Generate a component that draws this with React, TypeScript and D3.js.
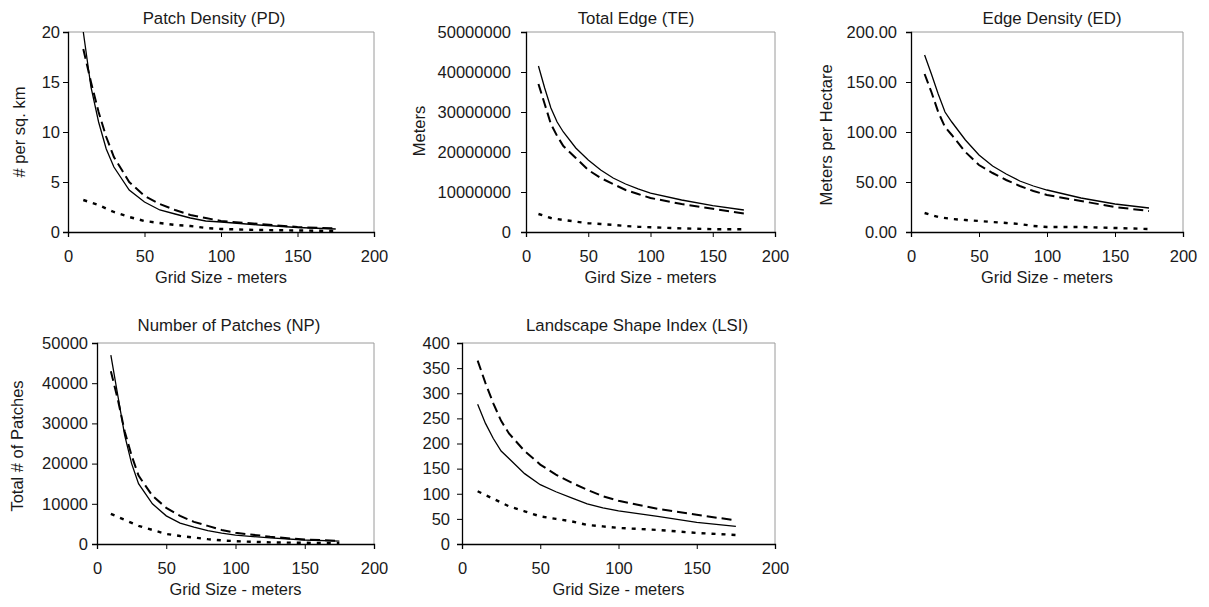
import React, { useRef, useEffect } from 'react';
import * as d3 from 'd3';

// grid sizes (meters) at which the metrics were computed
const gridSizes = [10, 15, 20, 25, 30, 40, 50, 60, 70, 80, 90, 100, 125, 150, 175];
const dotSizes = [10, 20, 30, 40, 50, 60, 70, 80, 90, 100, 125, 150, 175];

// Patch Density (PD)
const pdSolid = [20, 14.5, 11, 8.3, 6.5, 4.2, 3, 2.2, 1.8, 1.4, 1.1, 1.0, 0.7, 0.45, 0.3];
const pdDashed = [18.3, 15, 12, 9.5, 7.5, 5, 3.6, 2.8, 2.2, 1.7, 1.4, 1.1, 0.8, 0.5, 0.35];
const pdDotted = [3.2, 2.7, 2.0, 1.5, 1.1, 0.9, 0.7, 0.6, 0.4, 0.3, 0.2, 0.15, 0.1];

// Total Edge (TE)
const teSolid = [41500000, 36000000, 31000000, 27500000, 25000000, 21000000, 18000000, 15500000, 13500000, 12000000, 10800000, 9700000, 8000000, 6600000, 5500000];
const teDashed = [37000000, 32000000, 27000000, 24000000, 21500000, 18500000, 15500000, 13500000, 12000000, 10500000, 9500000, 8500000, 7000000, 5800000, 4600000];
const teDotted = [4500000, 3500000, 3000000, 2600000, 2200000, 2000000, 1800000, 1500000, 1300000, 1200000, 900000, 700000, 700000];

// Edge Density (ED)
const edSolid = [177, 158, 138, 120, 110, 92, 77, 66, 58, 51, 46, 42, 34, 28, 24];
const edDashed = [158, 140, 120, 105, 97, 80, 67, 59, 52, 46, 41, 37, 31, 25, 21];
const edDotted = [19, 15, 13, 12, 11, 10, 9, 8, 6, 5, 5, 4, 3];

// Number of Patches (NP)
const npSolid = [47000, 37000, 27000, 20000, 15000, 10000, 7000, 5200, 4200, 3300, 2700, 2200, 1500, 1000, 700];
const npDashed = [43000, 36000, 28000, 22000, 17000, 12000, 9000, 7000, 5500, 4500, 3500, 2800, 1800, 1100, 800];
const npDotted = [7500, 6000, 4500, 3500, 2500, 2000, 1600, 1200, 900, 700, 400, 300, 200];

// Landscape Shape Index (LSI)
const lsiSolid = [278, 240, 210, 185, 170, 140, 118, 104, 92, 80, 72, 66, 55, 43, 35];
const lsiDashed = [365, 320, 280, 245, 220, 185, 158, 138, 122, 108, 95, 86, 70, 58, 47];
const lsiDotted = [105, 90, 75, 65, 55, 50, 45, 38, 35, 32, 28, 22, 18];

const panels = [
  { title: 'Patch Density (PD)', yLabel: '# per sq. km', xLabel: 'Grid Size - meters', yMax: 20, yStep: 5, fmt: (v) => `${v}`,
    box: [68, 32, 374, 232], titleX: 214, titleDy: 8, yLab: [25, 132], yPad: 3, series: [pdSolid, pdDashed, pdDotted] },
  { title: 'Total Edge (TE)', yLabel: 'Meters', xLabel: 'Gird Size - meters', yMax: 50000000, yStep: 10000000, fmt: (v) => `${v}`,
    box: [526, 32, 775, 232], titleX: 636, titleDy: 8, yLab: [425, 131], yPad: 10, series: [teSolid, teDashed, teDotted] },
  { title: 'Edge Density (ED)', yLabel: 'Meters per Hectare', xLabel: 'Grid Size - meters', yMax: 200, yStep: 50, fmt: (v) => v.toFixed(2),
    box: [911, 32, 1183, 232], titleX: 1052, titleDy: 8, yLab: [832, 135], yPad: 9, series: [edSolid, edDashed, edDotted] },
  { title: 'Number of Patches (NP)', yLabel: 'Total # of Patches', xLabel: 'Grid Size - meters', yMax: 50000, yStep: 10000, fmt: (v) => `${v}`,
    box: [97, 343, 374, 544], titleX: 229, titleDy: 12, yLab: [22.5, 446], yPad: 4, series: [npSolid, npDashed, npDotted] },
  { title: 'Landscape Shape Index (LSI)', yLabel: '', xLabel: 'Grid Size - meters', yMax: 400, yStep: 50, fmt: (v) => `${v}`,
    box: [462, 343, 775, 544], titleX: 637, titleDy: 12, yLab: [0, 0], yPad: 7, series: [lsiSolid, lsiDashed, lsiDotted] },
];

const styles = [
  { width: 1.3, dash: null },
  { width: 2, dash: '10,5' },
  { width: 2.4, dash: '4,6' },
];

const App = () => {
  const svgRef = useRef(null);

  useEffect(() => {
    const svg = d3.select(svgRef.current);
    svg.selectAll('*').remove();
    const font = '"Liberation Sans", Arial, sans-serif';
    const ink = '#1a1a1a';

    panels.forEach((p) => {
      const [x0, y0, x1, y1] = p.box;
      const g = svg.append('g');

      const x = d3.scaleLinear().domain([0, 200]).range([x0, x1]);
      const y = d3.scaleLinear().domain([0, p.yMax]).range([y1, y0]);

      // light frame on top and right
      g.append('path')
        .attr('d', `M${x0},${y0}H${x1}V${y1}`)
        .attr('fill', 'none')
        .attr('stroke', '#9a9a9a')
        .attr('stroke-width', 1);

      const yTicks = d3.range(0, p.yMax + p.yStep / 2, p.yStep);

      const xAxis = g.append('g')
        .attr('transform', `translate(0,${y1})`)
        .call(d3.axisBottom(x).tickValues([0, 50, 100, 150, 200]).tickSize(5).tickPadding(13));
      const yAxis = g.append('g')
        .attr('transform', `translate(${x0},0)`)
        .call(d3.axisLeft(y).tickValues(yTicks).tickFormat(p.fmt).tickSize(5).tickPadding(p.yPad));

      [xAxis, yAxis].forEach((a) => {
        a.select('.domain').attr('stroke', '#000').attr('stroke-width', 1.3);
        a.selectAll('.tick line').attr('stroke', '#000');
        a.selectAll('text')
          .attr('fill', ink)
          .style('font-family', font)
          .style('font-size', '16.5px');
      });

      // series
      p.series.forEach((vals, i) => {
        const xs = i === 2 ? dotSizes : gridSizes;
        const line = d3.line().x((_, j) => x(xs[j])).y((d) => y(d));
        g.append('path')
          .datum(vals)
          .attr('d', line)
          .attr('fill', 'none')
          .attr('stroke', '#000')
          .attr('stroke-width', styles[i].width)
          .attr('stroke-dasharray', styles[i].dash);
      });

      // titles and labels
      g.append('text')
        .attr('x', p.titleX)
        .attr('y', y0 - p.titleDy)
        .attr('text-anchor', 'middle')
        .style('font-family', font)
        .style('font-size', '16.8px')
        .attr('fill', ink)
        .text(p.title);

      g.append('text')
        .attr('x', (x0 + x1) / 2)
        .attr('y', y1 + 51)
        .attr('text-anchor', 'middle')
        .style('font-family', font)
        .style('font-size', '16.4px')
        .attr('fill', ink)
        .text(p.xLabel);

      if (p.yLabel) {
        g.append('text')
          .attr('transform', `translate(${p.yLab[0]},${p.yLab[1]}) rotate(-90)`)
          .attr('text-anchor', 'middle')
          .style('font-family', font)
          .style('font-size', '16.5px')
          .attr('fill', ink)
          .text(p.yLabel);
      }
    });
  }, []);

  return (
    <svg
      ref={svgRef}
      width={1209}
      height={607}
      style={{ position: 'absolute', left: 0, top: 0, background: '#fff' }}
    />
  );
};

export default App;
